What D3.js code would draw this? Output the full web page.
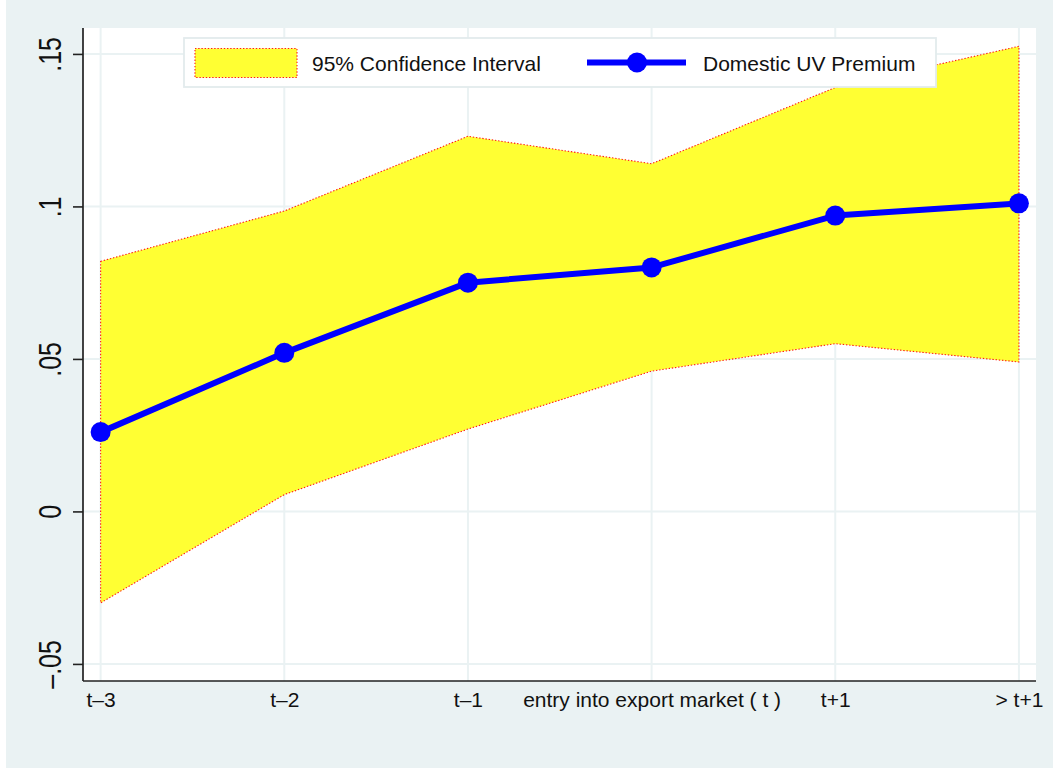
<!DOCTYPE html>
<html>
<head>
<meta charset="utf-8">
<script src="https://cdn.jsdelivr.net/npm/d3@7"></script>
<style>
  html, body { margin: 0; padding: 0; background: #ffffff; }
  svg { display: block; font-family: "Liberation Sans", Arial, Helvetica, sans-serif; }
</style>
</head>
<body>
<svg id="chart" width="1053" height="768"></svg>
<script>
// Event-time categories around export market entry
const categories = ["t–3", "t–2", "t–1", "entry into export market ( t )", "t+1", "> t+1"];
// Point estimates of the domestic unit-value premium
const premium = [0.026, 0.052, 0.075, 0.080, 0.097, 0.101];
// 95% confidence bounds
const ciLower = [-0.030, 0.0055, 0.027, 0.046, 0.055, 0.049];
const ciUpper = [0.082, 0.0985, 0.123, 0.114, 0.139, 0.1525];
// Y-axis ticks and their labels
const yTicks = [-0.05, 0, 0.05, 0.1, 0.15];
const yTickLabels = ["–.05", "0", ".05", ".1", ".15"];

const svg = d3.select("#chart");
const W = 1053, H = 768;
const plot = { left: 83, right: 1036, top: 28, bottom: 681 };

const bgColor = "#eaf2f3";
const gridColor = "#eaf2f3";

// Outer graph region
svg.append("rect").attr("x", 6).attr("y", 0).attr("width", W - 6).attr("height", H).attr("fill", bgColor);
// Plot region
svg.append("rect")
  .attr("x", plot.left).attr("y", plot.top)
  .attr("width", plot.right - plot.left).attr("height", plot.bottom - plot.top)
  .attr("fill", "#ffffff");

const idx = d3.range(categories.length);
const x = d3.scaleLinear().domain([-0.096, 5.093]).range([plot.left, plot.right]);
const y = d3.scaleLinear().domain([-0.0556, 0.1585]).range([plot.bottom, plot.top]);

// Grid lines
const grid = svg.append("g");
grid.selectAll("line.h").data(yTicks).join("line")
  .attr("x1", plot.left).attr("x2", plot.right)
  .attr("y1", d => y(d)).attr("y2", d => y(d))
  .attr("stroke", gridColor).attr("stroke-width", 2);
grid.selectAll("line.v").data(idx).join("line")
  .attr("y1", plot.top).attr("y2", plot.bottom)
  .attr("x1", d => x(d)).attr("x2", d => x(d))
  .attr("stroke", gridColor).attr("stroke-width", 2);

// Confidence band
const band = d3.area()
  .x(i => x(i))
  .y0(i => y(ciLower[i]))
  .y1(i => y(ciUpper[i]));
svg.append("path")
  .datum(idx)
  .attr("d", d => band(d) + "Z")
  .attr("fill", "#ffff33")
  .attr("stroke", "#ff1a1a")
  .attr("stroke-width", 1.1)
  .attr("stroke-dasharray", "1.4 1.8");

// Premium line with markers
const line = d3.line().x(i => x(i)).y(i => y(premium[i]));
svg.append("path")
  .datum(idx)
  .attr("d", line)
  .attr("fill", "none")
  .attr("stroke", "#0000ff")
  .attr("stroke-width", 6)
  .attr("stroke-linejoin", "round");
svg.selectAll("circle.pt").data(idx).join("circle")
  .attr("class", "pt")
  .attr("cx", i => x(i)).attr("cy", i => y(premium[i]))
  .attr("r", 10)
  .attr("fill", "#0000ff");

// Y axis
const yAxis = d3.axisLeft(y)
  .tickValues(yTicks)
  .tickFormat((d, i) => yTickLabels[i])
  .tickSize(10)
  .tickPadding(12);
const gy = svg.append("g").attr("transform", `translate(${plot.left},0)`).call(yAxis);
gy.select(".domain").remove();
gy.selectAll(".tick line").attr("stroke", "#222").attr("stroke-width", 1.6);
gy.selectAll(".tick text")
  .attr("font-size", 25)
  .attr("fill", "#111")
  .attr("text-anchor", "middle")
  .attr("x", null).attr("dy", null)
  .attr("transform", "translate(-22,0) rotate(-90) scale(1,1.25)");

svg.append("line")
  .attr("x1", plot.left).attr("x2", plot.left)
  .attr("y1", plot.top).attr("y2", plot.bottom)
  .attr("stroke", "#222").attr("stroke-width", 1.7);

// X axis
const xAxis = d3.axisBottom(x)
  .tickValues(idx)
  .tickFormat(i => categories[i])
  .tickSize(0)
  .tickPadding(6);
const gx = svg.append("g").attr("transform", `translate(0,${plot.bottom})`).call(xAxis);
gx.select(".domain").remove();
gx.selectAll(".tick text")
  .attr("font-size", 21)
  .attr("fill", "#111")
  .attr("dy", "0.95em");
svg.append("line")
  .attr("x1", plot.left).attr("x2", plot.right)
  .attr("y1", plot.bottom).attr("y2", plot.bottom)
  .attr("stroke", "#222").attr("stroke-width", 1.7);

// Legend
const lg = svg.append("g");
lg.append("rect")
  .attr("x", 184).attr("y", 38).attr("width", 752).attr("height", 49)
  .attr("fill", "#ffffff").attr("stroke", "#e3ebed").attr("stroke-width", 1.8);
lg.append("rect")
  .attr("x", 195).attr("y", 48.5).attr("width", 102).attr("height", 29)
  .attr("fill", "#ffff33")
  .attr("stroke", "#ff1a1a").attr("stroke-width", 1.1).attr("stroke-dasharray", "1.4 1.8");
lg.append("text")
  .attr("x", 312).attr("y", 70.5)
  .attr("font-size", 21).attr("fill", "#111")
  .text("95% Confidence Interval");
lg.append("line")
  .attr("x1", 587).attr("x2", 686).attr("y1", 62.5).attr("y2", 62.5)
  .attr("stroke", "#0000ff").attr("stroke-width", 6);
lg.append("circle")
  .attr("cx", 637).attr("cy", 62.5).attr("r", 10).attr("fill", "#0000ff");
lg.append("text")
  .attr("x", 703).attr("y", 70.5)
  .attr("font-size", 21).attr("fill", "#111")
  .text("Domestic UV Premium");
</script>
</body>
</html>
